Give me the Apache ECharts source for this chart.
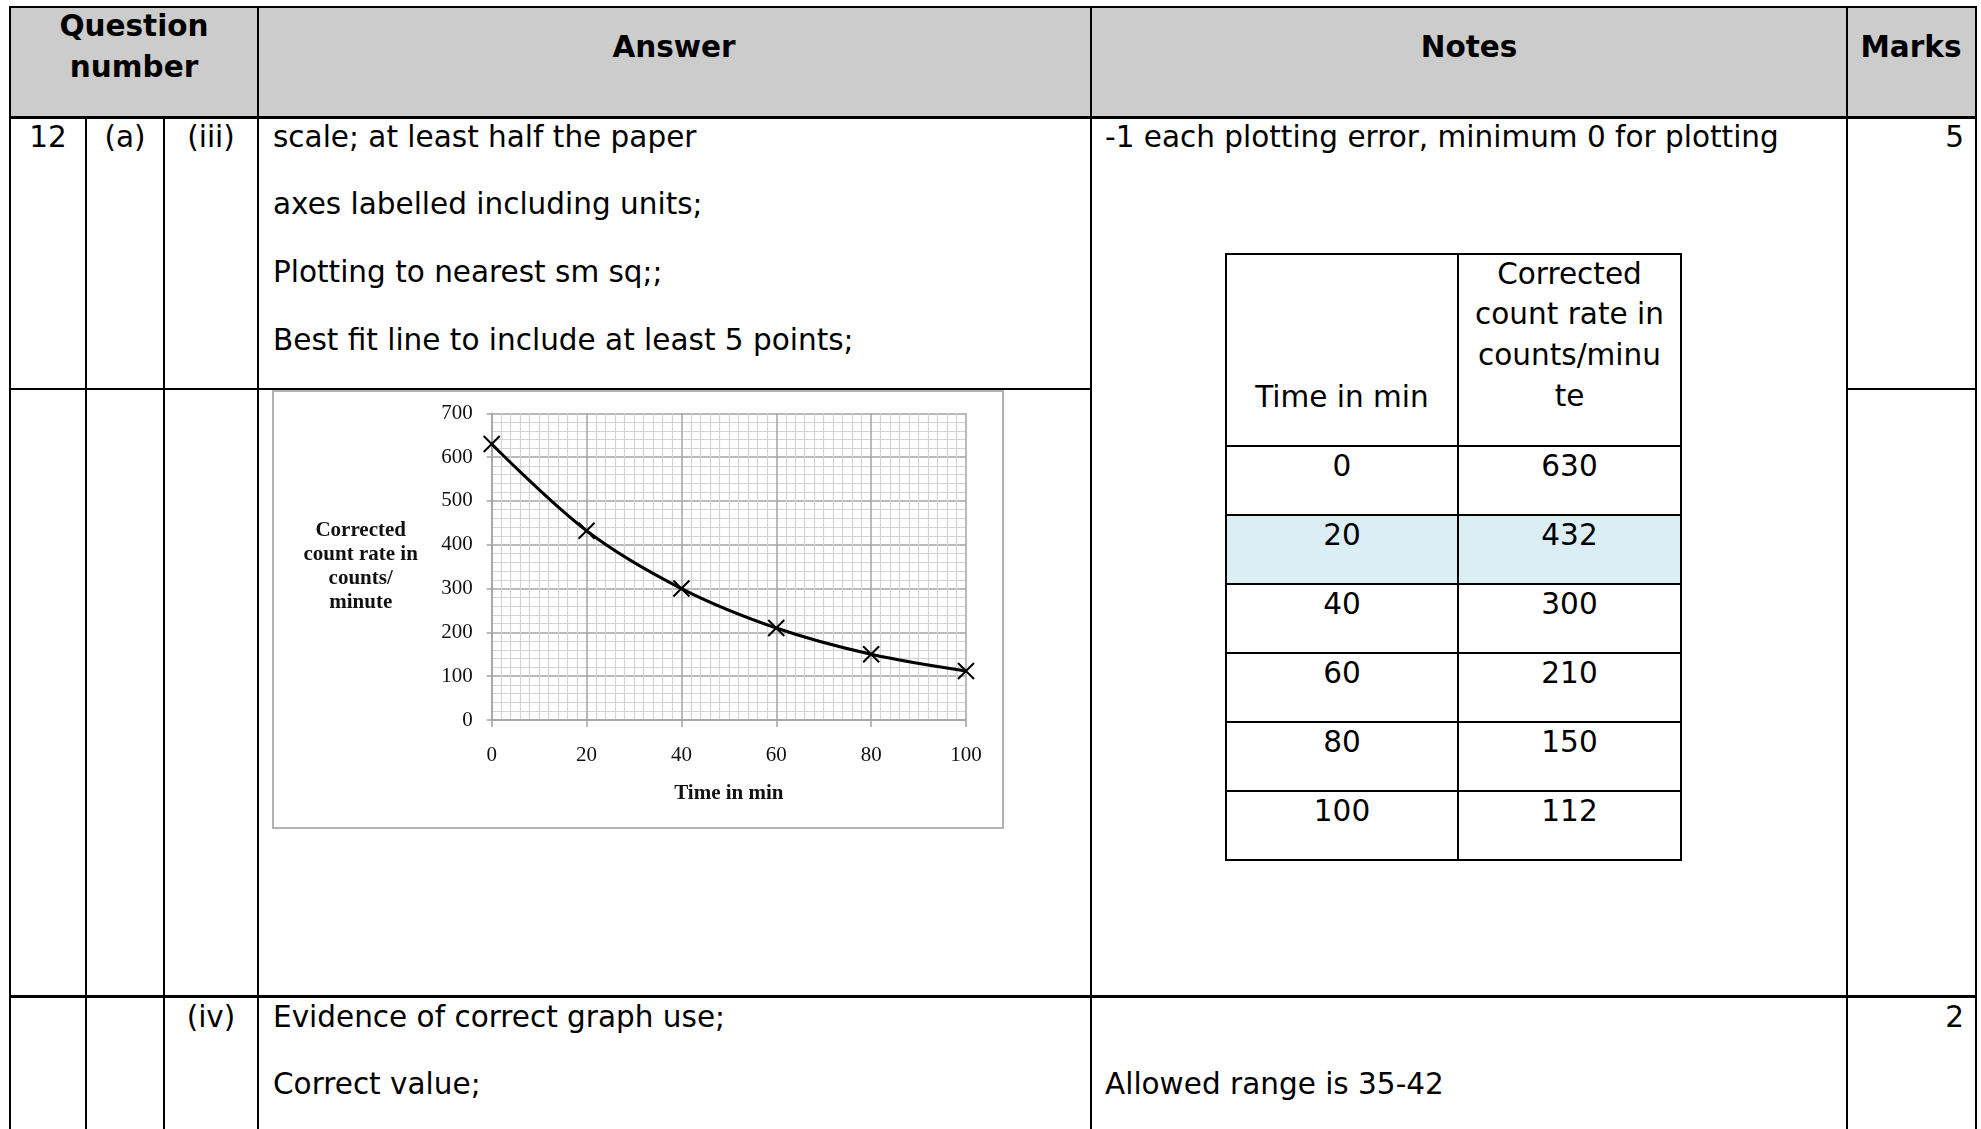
<!DOCTYPE html>
<html><head><meta charset="utf-8">
<script src="https://cdn.jsdelivr.net/npm/echarts@6/dist/echarts.min.js"></script>
<style>
html,body{margin:0;padding:0;background:#fff;width:1981px;height:1129px;overflow:hidden;position:relative;}
.t{position:absolute;font-family:"DejaVu Sans",Verdana,sans-serif;font-size:29.5px;line-height:36px;color:#000;white-space:nowrap;}
.b{font-weight:bold;}
.r{position:absolute;}
#chart{position:absolute;left:273px;top:391px;width:730px;height:437px;}
#chartBorder{position:absolute;left:272px;top:390px;width:732px;height:439px;box-sizing:border-box;border:2px solid #b3b3b3;pointer-events:none;}
</style></head><body>
<div id="chart"></div>
<div id="chartBorder"></div>
<script>
// ---- data ----
const timeMin = [0, 20, 40, 60, 80, 100];
const countRate = [630, 432, 300, 210, 150, 112];
const xAxisName = 'Time in min';
const yAxisName = 'Corrected\ncount rate in\ncounts/\nminute';
const answerLines = ['scale; at least half the paper', 'axes labelled including units;', 'Plotting to nearest sm sq;;', 'Best fit line to include at least 5 points;'];
const innerHeader = ['Corrected', 'count rate in', 'counts/minu', 'te'];

// ---- page helpers ----
const body = document.body;
function rect(x, y, w, h, color) {
  const d = document.createElement('div');
  d.className = 'r';
  d.style.cssText = `left:${x}px;top:${y}px;width:${w}px;height:${h}px;background:${color};`;
  body.appendChild(d);
  return d;
}
// yc = vertical centre of the first line
function txt(s, x, yc, align, bold, lh) {
  const d = document.createElement('div');
  d.className = 't' + (bold ? ' b' : '');
  const L = lh || 36;
  d.style.lineHeight = L + 'px';
  d.style.top = (yc - L / 2) + 'px';
  if (align === 'center') { d.style.left = x + 'px'; d.style.transform = 'translateX(-50%)'; d.style.textAlign = 'center'; }
  else if (align === 'right') { d.style.right = (1981 - x) + 'px'; d.style.textAlign = 'right'; }
  else { d.style.left = x + 'px'; }
  d.innerHTML = s;
  body.appendChild(d);
}
function hline(x1, x2, y, w) { rect(x1 - 1, y - w / 2, x2 - x1 + 2, w, '#000'); }
function vline(x, y1, y2, w) { rect(x - w / 2, y1, w, y2 - y1, '#000'); }

// header background
rect(10, 7, 1966, 110, '#cccccc');
// inner table highlight
rect(1226, 515, 455, 69, '#daeef3');

// main table lines
[10, 258, 1091, 1847, 1976].forEach(x => vline(x, 6, 1129, 2.2));
[86, 164].forEach(x => vline(x, 117, 1129, 2.2));
hline(10, 1976, 7, 2.2);
hline(10, 1976, 117, 3);
hline(10, 1091, 389, 2.2);
hline(1847, 1976, 389, 2.2);
hline(10, 1976, 996, 3);

// inner table lines
[1226, 1458, 1681].forEach(x => vline(x, 253, 861, 2.2));
[254, 446, 515, 584, 653, 722, 791, 860].forEach(y => hline(1226, 1681, y, 2.2));

// header texts
txt('Question<br>number', 134, 26.5, 'center', true, 40.5);
txt('Answer', 674, 47, 'center', true);
txt('Notes', 1469, 47, 'center', true);
txt('Marks', 1911, 47, 'center', true);

// row (iii)
txt('12', 48, 136.5, 'center');
txt('(a)', 125, 136.5, 'center');
txt('(iii)', 211, 136.5, 'center');
const answerY = [136.5, 204, 272, 340];
answerLines.forEach((s, i) => txt(s, 273, answerY[i], 'left'));
txt('-1 each plotting error, minimum 0 for plotting', 1105, 136.5, 'left');
txt('5', 1964, 136.5, 'right');

// inner table
txt(innerHeader.join('<br>'), 1569.5, 274, 'center', false, 40.8);
txt('Time in min', 1342, 396.7, 'center');
const rowTops = [446, 515, 584, 653, 722, 791];
timeMin.forEach((t, i) => {
  txt(String(t), 1342, rowTops[i] + 20, 'center');
  txt(String(countRate[i]), 1569.5, rowTops[i] + 20, 'center');
});

// row (iv)
txt('(iv)', 211, 1017, 'center');
txt('Evidence of correct graph use;', 273, 1017, 'left');
txt('Correct value;', 273, 1084, 'left');
txt('Allowed range is 35-42', 1105, 1084, 'left');
txt('2', 1964, 1017, 'right');

// ---- chart ----
const chart = echarts.init(document.getElementById('chart'), null, { renderer: 'canvas' });
const serif = '"Liberation Serif", "DejaVu Serif", serif';
const majorColor = '#a3a3a3';
const minorColor = '#d3d3d3';
chart.setOption({
  animation: false,
  backgroundColor: '#fff',
  grid: { left: 218.7, top: 22.3, width: 474.3, height: 306.7, containLabel: false },
  xAxis: {
    type: 'value', min: 0, max: 100, interval: 20,
    name: xAxisName, nameLocation: 'middle', nameGap: 63.5,
    nameTextStyle: { fontFamily: serif, fontWeight: 'bold', fontSize: 21, color: '#111' },
    axisLine: { show: true, lineStyle: { color: majorColor, width: 1.5 } },
    axisTick: { show: true, inside: false, length: 7, lineStyle: { color: majorColor, width: 1.5 } },
    axisLabel: { margin: 25, fontFamily: serif, fontSize: 21, color: '#111' },
    splitLine: { show: true, lineStyle: { color: majorColor, width: 1.5 } },
    minorTick: { show: false, splitNumber: 10 },
    minorSplitLine: { show: true, lineStyle: { color: minorColor, width: 1.2 } }
  },
  yAxis: {
    type: 'value', min: 0, max: 700, interval: 100,
    name: yAxisName, nameLocation: 'middle', nameRotate: 0, nameGap: 131,
    nameTextStyle: { fontFamily: serif, fontWeight: 'bold', fontSize: 21, lineHeight: 24, color: '#111', align: 'center', verticalAlign: 'middle', padding: [10, 0, 0, 0] },
    axisLine: { show: true, lineStyle: { color: majorColor, width: 1.5 } },
    axisTick: { show: true, inside: false, length: 5, lineStyle: { color: majorColor, width: 1.5 } },
    axisLabel: { margin: 19, fontFamily: serif, fontSize: 21, color: '#111' },
    splitLine: { show: true, lineStyle: { color: majorColor, width: 1.5 } },
    minorTick: { show: false, splitNumber: 5 },
    minorSplitLine: { show: true, lineStyle: { color: minorColor, width: 1.2 } }
  },
  series: [{
    type: 'line',
    data: timeMin.map((t, i) => [t, countRate[i]]),
    smooth: 0.35,
    lineStyle: { color: '#000', width: 3 },
    symbol: 'path://M0,0L10,10M10,0L0,10',
    symbolSize: 16,
    itemStyle: { color: '#000', borderColor: '#000', borderWidth: 2 },
    z: 5
  }]
});
</script>
</body></html>
